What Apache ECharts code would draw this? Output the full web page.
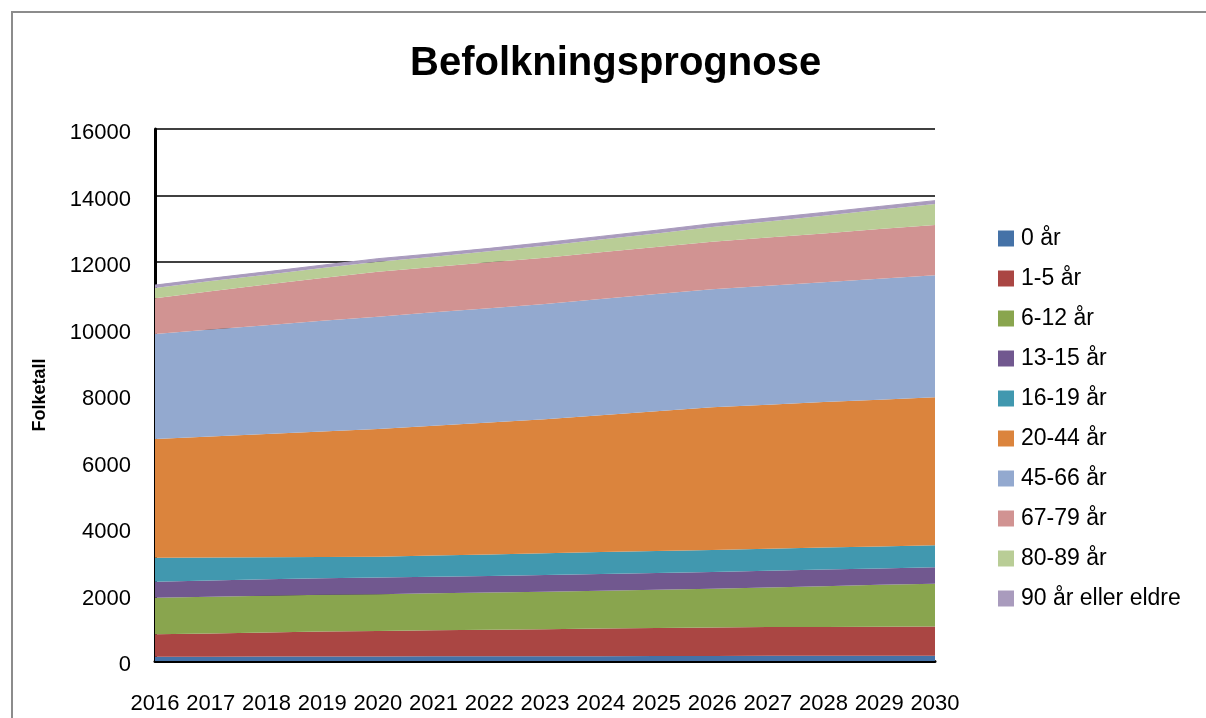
<!DOCTYPE html>
<html>
<head>
<meta charset="utf-8">
<script src="https://cdn.jsdelivr.net/npm/echarts@6/dist/echarts.min.js"></script>
<style>
html,body{margin:0;padding:0;background:#fff;}
#chart{width:1206px;height:718px;}
</style>
</head>
<body>
<div id="chart"></div>
<script>
const years = ['2016','2017','2018','2019','2020','2021','2022','2023','2024','2025','2026','2027','2028','2029','2030'];
const seriesNames = ['0 år','1-5 år','6-12 år','13-15 år','16-19 år','20-44 år','45-66 år','67-79 år','80-89 år','90 år eller eldre'];
const age0     = [130,130,135,135,135,140,140,145,145,150,150,155,155,160,160];
const age1_5   = [673,700,725,750,770,785,800,810,830,845,860,865,870,870,875];
const age6_12  = [1101,1105,1105,1105,1105,1110,1120,1130,1140,1150,1165,1190,1225,1260,1290];
const age13_15 = [481,485,490,495,500,500,500,505,505,505,505,505,500,495,493];
const age16_19 = [722,695,665,640,627,635,645,650,655,660,659,660,660,660,662];
const age20_44 = [3569,3635,3710,3775,3842,3905,3965,4031,4115,4200,4292,4335,4380,4415,4452];
const age45_66 = [3159,3220,3270,3330,3378,3410,3440,3467,3495,3525,3550,3575,3600,3635,3670];
const age67_79 = [1075,1150,1220,1290,1353,1365,1380,1393,1405,1415,1431,1455,1470,1495,1513];
const age80_89 = [310,305,300,300,300,310,330,360,385,410,440,480,530,580,630];
const age90    = [85,85,85,85,90,90,90,95,95,95,100,100,100,100,100];
const yTicks = [0,2000,4000,6000,8000,10000,12000,14000,16000];

const colors = ['#4572A7','#AA4643','#89A54E','#71588F','#4198AF','#DB843D','#93A9CF','#D19392','#B9CD96','#A99BBD'];
const dataSets = [age0,age1_5,age6_12,age13_15,age16_19,age20_44,age45_66,age67_79,age80_89,age90];

const FONT = 'Liberation Sans';
const chart = echarts.init(document.getElementById('chart'));
chart.setOption({
  animation: false,
  backgroundColor: '#ffffff',
  color: colors,
  graphic: [{
    type: 'rect',
    shape: {x: 12, y: 12, width: 1400, height: 900},
    style: {fill: 'none', stroke: '#8c8c8c', lineWidth: 2},
    z: -10
  }],
  title: {
    text: 'Befolkningsprognose',
    left: 405,
    top: 39,
    textStyle: {fontFamily: FONT, fontSize: 40, fontWeight: 'bold', color: '#000'}
  },
  legend: {
    orient: 'vertical',
    left: 993,
    top: 222,
    itemWidth: 16,
    itemHeight: 16,
    itemGap: 17,
    icon: 'rect',
    data: seriesNames,
    textStyle: {fontFamily: FONT, fontSize: 23, color: '#000', lineHeight: 22, padding: [0,0,0,2]}
  },
  grid: {left: 155, right: 271, top: 129, bottom: 57, containLabel: false},
  xAxis: {
    type: 'category',
    data: years,
    boundaryGap: false,
    axisLine: {show: true, lineStyle: {color: '#000', width: 3}},
    axisTick: {show: false},
    axisLabel: {interval: 0, fontFamily: FONT, fontSize: 22, color: '#000', margin: 32},
    splitLine: {show: false}
  },
  yAxis: {
    type: 'value',
    min: 0,
    max: 16000,
    interval: 2000,
    name: 'Folketall',
    nameLocation: 'middle',
    nameRotate: 90,
    nameGap: 106,
    nameTextStyle: {fontFamily: FONT, fontSize: 18, fontWeight: 'bold', color: '#000'},
    axisLine: {show: true, lineStyle: {color: '#000', width: 3}},
    axisTick: {show: false},
    axisLabel: {fontFamily: FONT, fontSize: 22, color: '#000', margin: 24, verticalAlign: 'top', lineHeight: 8,
      formatter: function (v) { return yTicks.indexOf(v) >= 0 ? String(v) : ''; }},
    splitLine: {show: true, lineStyle: {color: '#000', width: 1.5}}
  },
  series: seriesNames.map(function (name, i) {
    return {
      name: name,
      type: 'line',
      stack: 'total',
      data: dataSets[i],
      showSymbol: false,
      symbol: 'none',
      lineStyle: {width: i === 9 ? 1 : 0, color: colors[i]},
      areaStyle: {color: colors[i], opacity: 1},
      itemStyle: {color: colors[i]}
    };
  })
});
</script>
</body>
</html>
